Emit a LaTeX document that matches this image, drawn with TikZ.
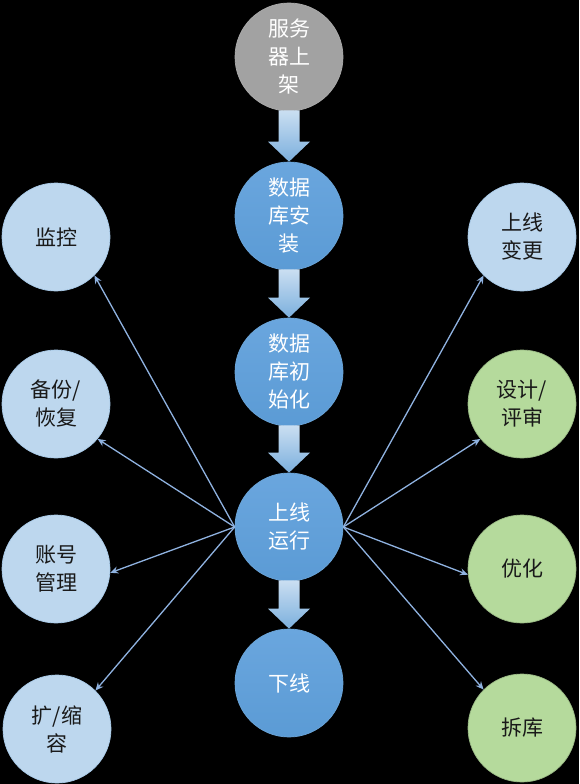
\documentclass[tikz,border=0pt]{standalone}
\usepackage{fontspec}
\setmainfont{Noto Sans CJK SC}
\usetikzlibrary{calc}
\usetikzlibrary{arrows.meta}

\definecolor{mainblue}{HTML}{5B9BD5}
\definecolor{mainbluetop}{HTML}{6AA6DE}
\definecolor{lightblue}{HTML}{BDD7EE}
\definecolor{lightgreen}{HTML}{B5DA9C}
\definecolor{linkblue}{HTML}{8FB2E0}
\definecolor{startgray}{HTML}{A2A2A2}

% block arrow between two nodes of the column
\newcommand{\flowarrow}[2]{%
  \path[blockarrow] ($(#1.south)+(-10.5,-1)$) -- ($(#2.north)+(-10.5,-20)$)
    -- ($(#2.north)+(-21,-20)$) -- (#2.north) -- ($(#2.north)+(21,-20)$)
    -- ($(#2.north)+(10.5,-20)$) -- ($(#1.south)+(10.5,-1)$) -- cycle;}

\begin{document}
\begin{tikzpicture}[x=1pt,y=-1pt,
    circ/.style={circle, minimum size=108pt, inner sep=0pt, align=center,
      font=\fontsize{21}{28}\selectfont, line width=0.7pt},
    stagec/.style={circ, top color=mainbluetop, bottom color=mainblue, draw=mainblue!90!white, text=white},
    startc/.style={circ, fill=startgray, draw=startgray!90!white, text=white},
    taskc/.style={circ, fill=lightblue, draw=lightblue!80!mainblue, text=black!90},
    reviewc/.style={circ, fill=lightgreen, draw=lightgreen!85!black, text=black!90},
    blockarrow/.style={top color=lightblue!80!white, bottom color=mainblue!80!white},
    link/.style={linkblue, line width=1.3pt, -{Stealth[length=8pt,width=7pt]}}]
  \useasboundingbox[fill=black] (0,0) rectangle (579,784);

  % main column
  \node[startc] (srv)  at (289,57)  {服务\\器上\\架};
  \node[stagec] (inst) at (289,216) {数据\\库安\\装};
  \node[stagec] (init) at (289,372) {数据\\库初\\始化};
  \node[stagec] (run)  at (289,527) {上线\\运行};
  \node[stagec] (off)  at (289,683) {下线};

  \flowarrow{srv}{inst}
  \flowarrow{inst}{init}
  \flowarrow{init}{run}
  \flowarrow{run}{off}

  % left column
  \node[taskc] (mon)   at (56,237) {监控};
  \node[taskc] (bak)   at (56,404) {备份/\\恢复};
  \node[taskc] (acct)  at (56,569) {账号\\管理};
  \node[taskc] (scale) at (57,729) {扩/缩\\容};

  % right column
  \node[taskc]   (chg) at (522,237) {上线\\变更};
  \node[reviewc] (rev) at (522,404) {设计/\\评审};
  \node[reviewc] (opt) at (522,569) {优化};
  \node[reviewc] (del) at (522,728) {拆库};

  \draw[link] (run.west) -- (mon.-45);
  \draw[link] (run.west) -- (bak.-40);
  \draw[link] (run.west) -- (acct.-4);
  \draw[link] (run.west) -- (scale.45);
  \draw[link] (run.east) -- (chg.-135);
  \draw[link] (run.east) -- (rev.-140);
  \draw[link] (run.east) -- (opt.186);
  \draw[link] (run.east) -- (del.135);
\end{tikzpicture}
\end{document}
